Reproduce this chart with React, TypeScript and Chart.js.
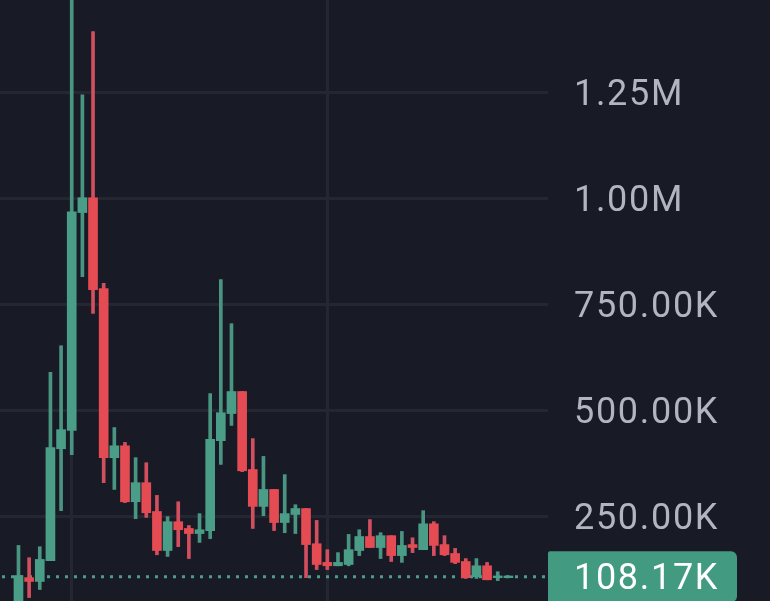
import React, { useEffect, useRef } from "react";
import { Chart, registerables } from "chart.js";

Chart.register(...registerables);

// Values in thousands
const opens = [28, 106, 97, 146, 410, 453, 967, 1002, 788, 389, 417, 285, 330, 262, 170, 238, 222, 210, 217, 429, 493, 545, 361, 274, 314, 236, 255, 269, 186, 142, 134, 137, 170, 203, 177, 205, 158, 184, 172, 233, 184, 163, 144, 108, 134, 106, 106];
const closes = [111, 97, 149, 413, 455, 969, 1002, 785, 389, 417, 285, 330, 259, 170, 238, 219, 210, 219, 432, 495, 545, 358, 274, 314, 236, 257, 269, 184, 137, 134, 142, 172, 203, 177, 205, 158, 182, 177, 233, 182, 160, 142, 106, 134, 101, 110, 110];
const highs = [182, 153, 179, 590, 653, 1479, 1245, 1394, 800, 460, 425, 389, 377, 300, 250, 285, 229, 257, 540, 809, 705, 545, 434, 392, 314, 349, 278, 269, 241, 172, 165, 208, 219, 243, 212, 205, 215, 200, 264, 238, 205, 175, 151, 151, 142, 120, 110];
const lows = [17, 59, 78, 146, 264, 396, 816, 729, 330, 314, 283, 245, 248, 160, 156, 179, 151, 189, 198, 373, 465, 356, 222, 252, 217, 212, 210, 106, 125, 125, 134, 134, 158, 177, 151, 144, 142, 165, 172, 158, 158, 139, 104, 104, 101, 99, 106];
const tickValues = [250000, 500000, 750000, 1000000, 1250000, 1500000];
const tickLabels = ["250.00K", "500.00K", "750.00K", "1.00M", "1.25M", "1.50M"];
const lastPrice = 108170;
const lastPriceLabel = "108.17K";
const markerIndexes = [5, 29];

const BG = "#181b26";
const GRID = "#242732";
const GREEN = "#4a9d86";
const GREEN_WICK = "#4a9482";
const RED = "#e54b53";
const RED_WICK = "#d14f5e";
const BADGE = "#429a80";
const FONT = "Roboto";
const SIZE = 36;
const SPACING = "1.7px";
const X_MIN = -1.735;
const X_MAX = 49.72;

const badgePlugin = {
  id: "lastPriceBadge",
  beforeDraw(chart: any) {
    chart.ctx.letterSpacing = SPACING;
  },
  afterDraw(chart: any) {
    const { ctx, chartArea } = chart;
    const y = chart.scales.y.getPixelForValue(lastPrice);
    ctx.save();
    ctx.fillStyle = BADGE;
    ctx.beginPath();
    ctx.roundRect(chartArea.right, y - 25.5, 189, 51, [2, 6, 6, 2]);
    ctx.fill();
    ctx.fillStyle = "#ffffff";
    ctx.font = `${SIZE}px ${FONT}`;
    ctx.letterSpacing = SPACING;
    ctx.textAlign = "left";
    ctx.textBaseline = "middle";
    ctx.fillText(lastPriceLabel, chartArea.right + 26, y + 3);
    ctx.restore();
  },
};

export default function App() {
  const ref = useRef<HTMLCanvasElement>(null);
  useEffect(() => {
    document.body.style.margin = "0";
    const xs = opens.map((_, i) => i);
    const chart = new Chart(ref.current!, {
      type: "bar",
      plugins: [badgePlugin],
      data: {
        datasets: [
          {
            label: "Open/close",
            data: xs.map((i) => ({ x: i, y: [opens[i], closes[i]].map((v) => v * 1000) })),
            backgroundColor: xs.map((i) => (closes[i] >= opens[i] ? GREEN : RED)),
            barThickness: 9,
            grouped: false,
            borderWidth: 0,
            order: 1,
          },
          {
            label: "High/low",
            data: xs.map((i) => ({ x: i, y: [lows[i], highs[i]].map((v) => v * 1000) })),
            backgroundColor: xs.map((i) => (closes[i] >= opens[i] ? GREEN_WICK : RED_WICK)),
            barThickness: 3,
            grouped: false,
            borderWidth: 0,
            order: 2,
          },
          {
            type: "line",
            label: "Last",
            data: [
              { x: X_MIN, y: lastPrice },
              { x: X_MAX, y: lastPrice },
            ],
            borderColor: "#4f9b87",
            borderWidth: 3,
            borderDash: [3, 6],
            borderDashOffset: 7,
            pointRadius: 0,
            order: 3,
          },
        ] as any,
      },
      options: {
        responsive: false,
        animation: false,
        events: [],
        layout: { padding: 0 },
        plugins: { legend: { display: false }, tooltip: { enabled: false } },
        scales: {
          x: {
            type: "linear",
            offset: false,
            min: X_MIN,
            max: X_MAX,
            grid: { color: GRID, lineWidth: 3, drawTicks: false, offset: false },
            border: { display: false },
            ticks: { display: false },
            afterBuildTicks(scale: any) {
              scale.ticks = markerIndexes.map((value) => ({ value }));
            },
            afterFit(scale: any) {
              scale.height = 0;
              scale.paddingLeft = 0;
              scale.paddingRight = 0;
            },
          },
          y: {
            type: "linear",
            position: "right",
            min: -41050,
            max: 1562700,
            grid: { color: GRID, lineWidth: 3, drawTicks: false },
            border: { display: false },
            afterBuildTicks(scale: any) {
              scale.ticks = tickValues.map((value) => ({ value }));
            },
            afterFit(scale: any) {
              scale.width = 222;
              scale.paddingTop = 0;
              scale.paddingBottom = 0;
            },
            ticks: {
              autoSkip: false,
              padding: 26,
              labelOffset: 3,
              crossAlign: "near",
              color: "#b2b5be",
              font: { family: FONT, size: SIZE },
              callback: (v: any) => tickLabels[tickValues.indexOf(Number(v))],
            },
          },
        },
      } as any,
    });
    return () => chart.destroy();
  }, []);
  return (
    <div style={{ position: "fixed", left: 0, top: 0, width: 770, height: 601, overflow: "hidden", background: BG }}>
      <canvas ref={ref} width={770} height={680} style={{ position: "absolute", left: 0, top: -40, width: 770, height: 680 }} />
    </div>
  );
}
